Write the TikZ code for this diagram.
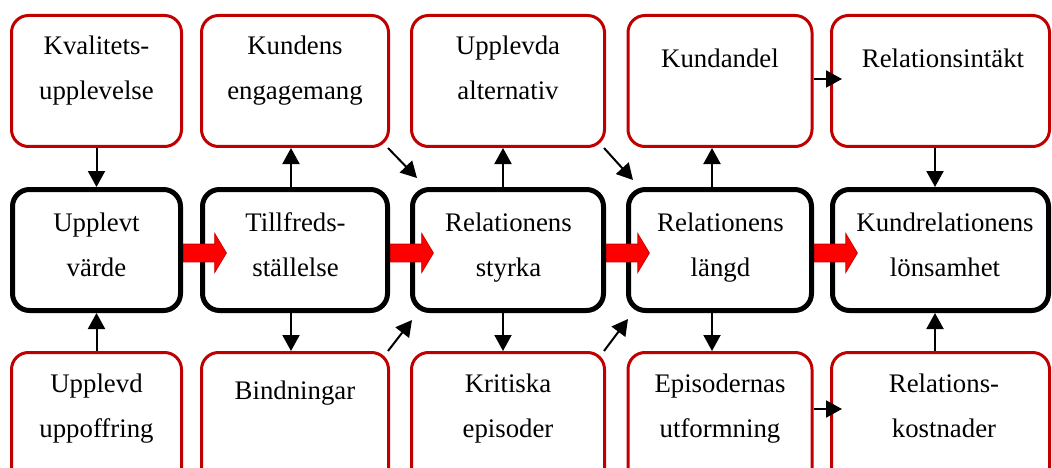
\documentclass[tikz,border=0pt]{standalone}
\usepackage{fontspec}
\setmainfont{Liberation Serif}
\usetikzlibrary{arrows.meta,shapes.arrows}
\definecolor{boxred}{RGB}{192,0,0}
\definecolor{flowfill}{RGB}{255,0,0}
\definecolor{flowedge}{RGB}{205,0,0}
\newcommand\lnstrut{\rule{0pt}{30pt}}

\begin{document}
\begin{tikzpicture}[x=1pt,y=-1pt,
  redbox/.style={draw=boxred, line width=3pt, rounded corners=17pt, inner sep=0pt},
  blackbox/.style={draw=black, line width=5pt, rounded corners=17pt, inner sep=0pt},
  toprow/.style={redbox, minimum height=131pt},
  midrow/.style={blackbox, minimum height=121pt},
  botrow/.style={redbox, minimum height=147pt},
  boxtext/.style={font=\fontsize{26.8}{45}\selectfont, align=center, inner sep=0pt, anchor=north},
  conn/.style={-{Triangle[length=16pt,width=17pt]}, line width=2pt},
  flow/.style={single arrow, fill=flowfill, draw=flowedge, line width=0.8pt,
    single arrow head extend=10.5pt, single arrow tip angle=118,
    inner xsep=0pt, inner ysep=8.5pt, minimum height=43pt, anchor=tail}
]

\path[use as bounding box, clip] (0,0) rectangle (1052,468);

% ---- top row: drivers
\node[toprow, minimum width=170pt] (t1) at (96.5,81) {};
\node[toprow, minimum width=187pt] (t2) at (295,81) {};
\node[toprow, minimum width=193pt] (t3) at (508,81) {};
\node[toprow, minimum width=184pt] (t4) at (720,81) {};
\node[toprow, minimum width=218pt] (t5) at (940.5,81) {};

% ---- middle row: main chain
\node[midrow, minimum width=168pt] (u1) at (96.5,250) {};
\node[midrow, minimum width=185pt] (u2) at (295,250) {};
\node[midrow, minimum width=191pt] (u3) at (508,250) {};
\node[midrow, minimum width=183pt] (u4) at (720,250) {};
\node[midrow, minimum width=216pt] (u5) at (940.5,250) {};

% ---- bottom row
\node[botrow, minimum width=170pt] (b1) at (96.5,426) {};
\node[botrow, minimum width=187pt] (b2) at (295,426) {};
\node[botrow, minimum width=193pt] (b3) at (508,426) {};
\node[botrow, minimum width=184pt] (b4) at (720,426) {};
\node[botrow, minimum width=218pt] (b5) at (940.5,426) {};

% ---- texts
\node[boxtext] (t1txt) at (96.5,24.5) {\lnstrut Kvalitets-\\upplevelse};
\node[boxtext] (t2txt) at (295,24.5) {\lnstrut Kundens\\engagemang};
\node[boxtext] (t3txt) at (508,24.5) {\lnstrut Upplevda\\alternativ};
\node[boxtext] (t4txt) at (720,37) {\lnstrut Kundandel};
\node[boxtext] (t5txt) at (943,37) {\lnstrut Relationsintäkt};

\node[boxtext] (u1txt) at (96.5,201) {\lnstrut Upplevt\\värde};
\node[boxtext] (u2txt) at (295.5,201) {\lnstrut Tillfreds-\\ställelse};
\node[boxtext] (u3txt) at (508.5,201) {\lnstrut Relationens\\styrka};
\node[boxtext] (u4txt) at (720.5,201) {\lnstrut Relationens\\längd};
\node[boxtext] (u5txt) at (945,201) {\lnstrut Kundrelationens\\lönsamhet};

\node[boxtext] (b1txt) at (96.5,362) {\lnstrut Upplevd\\uppoffring};
\node[boxtext] (b2txt) at (295,369) {\lnstrut Bindningar};
\node[boxtext] (b3txt) at (508,362) {\lnstrut Kritiska\\episoder};
\node[boxtext] (b4txt) at (720,362) {\lnstrut Episodernas\\utformning};
\node[boxtext] (b5txt) at (944,362) {\lnstrut Relations-\\kostnader};

% ---- vertical connectors
\draw[conn] (t1.south) -- (u1.north);
\draw[conn] (b1.north) -- (u1.south);
\draw[conn] ([xshift=-4pt]u2.north) -- ([xshift=-4pt]t2.south);
\draw[conn] ([xshift=-4pt]u2.south) -- ([xshift=-4pt]b2.north);
\draw[conn] ([xshift=-5pt]u3.north) -- ([xshift=-5pt]t3.south);
\draw[conn] ([xshift=-5pt]u3.south) -- ([xshift=-5pt]b3.north);
\draw[conn] ([xshift=-8pt]u4.north) -- ([xshift=-8pt]t4.south);
\draw[conn] ([xshift=-8pt]u4.south) -- ([xshift=-8pt]b4.north);
\draw[conn] ([xshift=-5.5pt]t5.south) -- ([xshift=-5.5pt]u5.north);
\draw[conn] ([xshift=-5.5pt]b5.north) -- ([xshift=-5.5pt]u5.south);

% ---- diagonal connectors
\coordinate (d1) at (417,178);
\coordinate (d2) at (633,180);
\coordinate (d3) at (412,320);
\coordinate (d4) at (628,319);
\draw[conn] ([xshift=-2pt]t2.south east) -- (d1);
\draw[conn] ([xshift=-2pt]t3.south east) -- (d2);
\draw[conn] ([xshift=-2pt]b2.north east) -- (d3);
\draw[conn] ([xshift=-2pt]b3.north east) -- (d4);

% ---- horizontal connectors
\coordinate (h1) at (842,79);
\coordinate (h2) at (842,409);
\draw[conn] (t4.east |- h1) -- (h1);
\draw[conn] (b4.east |- h2) -- (h2);

% ---- main flow arrows
\node[flow] (f1) at ([yshift=-3pt]u1.east) {};
\node[flow] (f2) at ([yshift=-3pt]u2.east) {};
\node[flow] (f3) at ([yshift=-3pt]u3.east) {};
\node[flow] (f4) at ([yshift=-3pt]u4.east) {};
\end{tikzpicture}
\end{document}
